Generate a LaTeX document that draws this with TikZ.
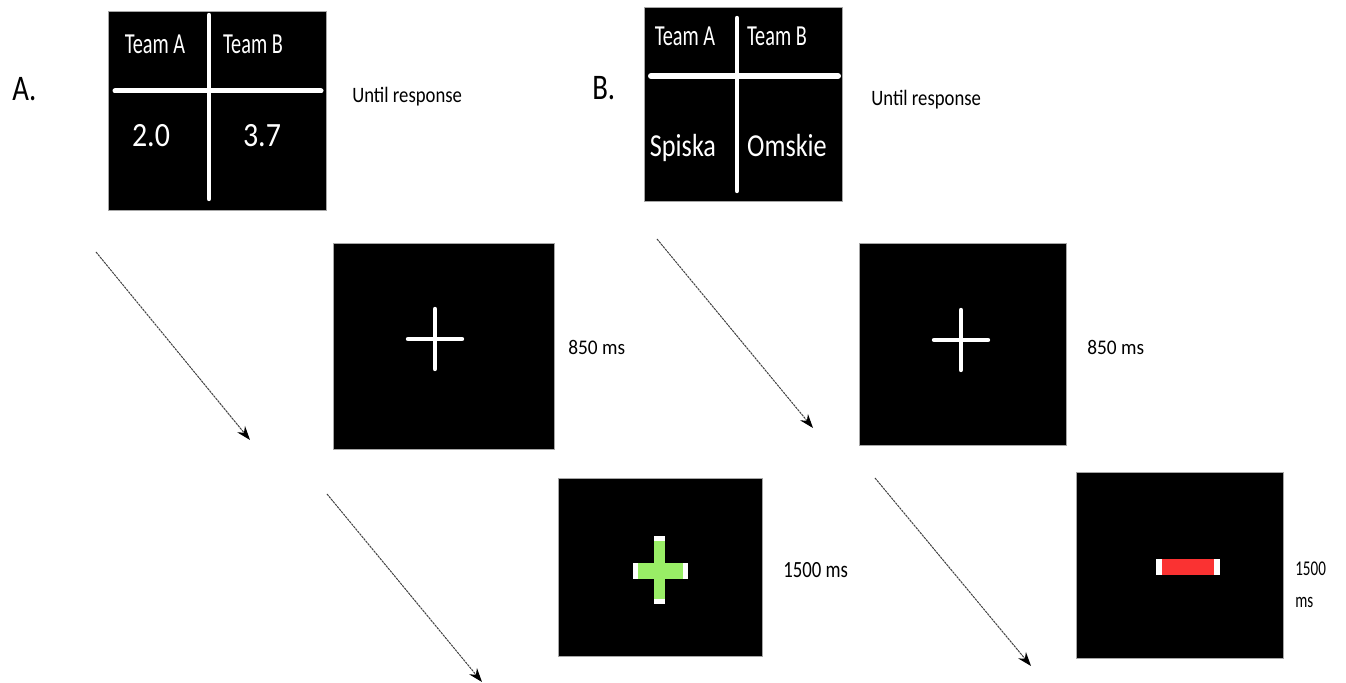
\documentclass[tikz,border=0pt]{standalone}
\usepackage{fontspec}
\setmainfont{Carlito}
\usepackage{xcolor}
\usetikzlibrary{arrows.meta}

\definecolor{plusgreen}{RGB}{153,238,102}
\definecolor{barred}{RGB}{250,50,50}

\tikzset{
  screen/.style={draw=gray!70, line width=0.4pt, fill=black, inner sep=0pt},
  bar/.style={white, line width=2.2pt, line cap=round},
  seq/.style={-{Stealth[length=7pt,width=5pt,black]}, black!75, line width=0.5pt, dash pattern=on 1.2pt off 0.4pt},
  lbl/.style={inner sep=0pt, anchor=base west},
  txt/.style={inner sep=0pt, anchor=base, text=white},
}

\begin{document}
\begin{tikzpicture}[x=0.5pt,y=-0.5pt]
\useasboundingbox (0,0) rectangle (1346,683);

% panel labels
\node[lbl, font=\fontsize{18}{18}\selectfont, xscale=0.8] (labA) at (12,101) {A.};
\node[lbl, font=\fontsize{18}{18}\selectfont, xscale=0.8] (labB) at (592,100) {B.};

% screens
\node[screen, minimum width=109pt, minimum height=99.5pt] (choiceA) at (217,110.5) {};
\node[screen, minimum width=99pt, minimum height=97pt] (choiceB) at (743,104) {};
\node[screen, minimum width=110.5pt, minimum height=103pt] (fixA) at (443.5,346) {};
\node[screen, minimum width=103.5pt, minimum height=101pt] (fixB) at (962.5,344) {};
\node[screen, minimum width=102pt, minimum height=89pt] (fbA) at (660,567) {};
\node[screen, minimum width=103.5pt, minimum height=93pt] (fbB) at (1179.5,565) {};

% choice screen A
\draw[bar, line width=2.5pt] (115,91) -- (321,91);
\draw[bar] (209,15) -- (209,199);
\foreach \x/\t in {155/Team A,253/Team B}{ \node[txt, font=\fontsize{14.5}{14.5}\selectfont, xscale=0.7] at (\x,54) {\t}; }
\node[txt, font=\fontsize{17}{17}\selectfont, xscale=0.88] (oddA1) at (151,147) {2.0};
\node[txt, font=\fontsize{17}{17}\selectfont, xscale=0.88] (oddA2) at (262,147) {3.7};

% choice screen B
\draw[bar, line width=3pt] (651,76) -- (838,76);
\draw[bar] (737,18) -- (737,191);
\foreach \x/\t in {685/Team A,777/Team B}{ \node[txt, font=\fontsize{14.5}{14.5}\selectfont, xscale=0.7] at (\x,46) {\t}; }
\node[txt, font=\fontsize{16}{16}\selectfont, xscale=0.82] (nameB1) at (683,157) {Spiska};
\node[txt, font=\fontsize{16}{16}\selectfont, xscale=0.82] (nameB2) at (787,157) {Omskie};

% fixation crosses
\foreach \cx/\cy in {435/339,961/340}{
  \draw[bar] (\cx-27,\cy) -- (\cx+27,\cy);
  \draw[bar] (\cx,\cy-30) -- (\cx,\cy+30);
}

% feedback: green plus
\fill[white] (633,563) rectangle (688,579);
\fill[white] (654,536) rectangle (665,604);
\fill[plusgreen] (638,563) rectangle (683,579);
\fill[plusgreen] (654,541) rectangle (665,599);

% feedback: red bar
\fill[white] (1156,559) rectangle (1220,575);
\fill[barred] (1162,559) rectangle (1214,575);

% durations
\node[lbl, font=\fontsize{11}{11}\selectfont, xscale=0.85] (durA1) at (352,103) {Until response};
\node[lbl, font=\fontsize{11}{11}\selectfont, xscale=0.85] (durB1) at (871,106) {Until response};
\node[lbl, font=\fontsize{10.4}{10.4}\selectfont, xscale=0.93] (durA2) at (568,355) {850 ms};
\node[lbl, font=\fontsize{10.4}{10.4}\selectfont, xscale=0.93] (durB2) at (1087,355) {850 ms};
\node[lbl, font=\fontsize{11.6}{11.6}\selectfont, xscale=0.81] (durA3) at (783,578) {1500 ms};
\node[lbl, font=\fontsize{10.5}{10.5}\selectfont, xscale=0.72] (durB3) at (1295,576) {1500};
\node[lbl, font=\fontsize{10.5}{10.5}\selectfont, xscale=0.72] (durB4) at (1295,608) {ms};

% sequence arrows
\coordinate (a1s) at (96,252);  \coordinate (a1e) at (250,440);
\coordinate (a2s) at (327,494); \coordinate (a2e) at (482,682);
\coordinate (b1s) at (657,239); \coordinate (b1e) at (813,428);
\coordinate (b2s) at (875,478); \coordinate (b2e) at (1031,666);
\foreach \s/\e in {a1s/a1e,a2s/a2e,b1s/b1e,b2s/b2e}{ \draw[seq] (\s) -- (\e); }
\end{tikzpicture}
\end{document}
